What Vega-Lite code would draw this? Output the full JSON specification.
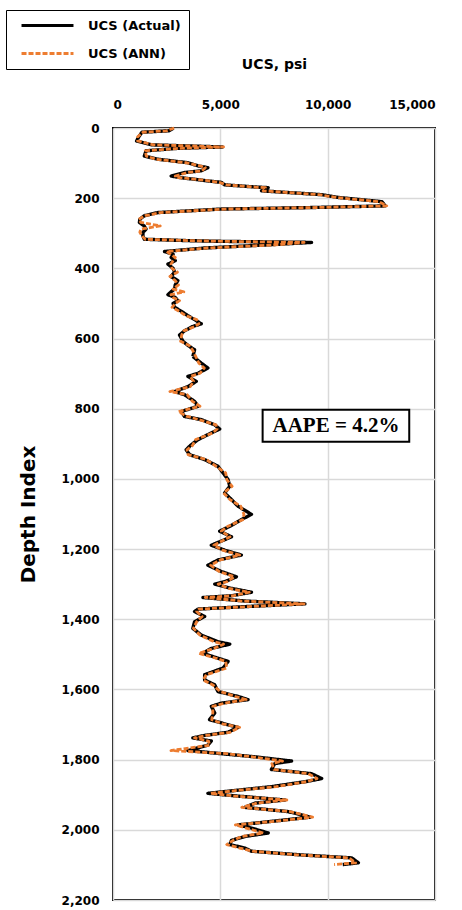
{
  "$schema": "https://vega.github.io/schema/vega-lite/v6.json",
  "width": 322,
  "height": 772,
  "autosize": "none",
  "padding": {"left": 113, "top": 128, "right": 27, "bottom": 10},
  "background": "white",
  "config": {
    "view": {"stroke": "black", "strokeWidth": 2},
    "font": "DejaVu Sans",
    "axis": {
      "labelFont": "DejaVu Sans", "labelFontWeight": "bold", "labelFontSize": 12, "labelColor": "black",
      "titleFont": "DejaVu Sans", "titleFontWeight": "bold", "titleColor": "black",
      "ticks": false, "domain": false, "gridColor": "#d9d9d9", "gridWidth": 1.5
    },
    "legend": {
      "orient": "none", "legendX": -107, "legendY": -118,
      "strokeColor": "black", "fillColor": "white", "padding": 8,
      "labelFont": "DejaVu Sans", "labelFontWeight": "bold", "labelFontSize": 13, "labelColor": "black",
      "symbolSize": 2700, "symbolStrokeWidth": 3, "symbolOffset": 6, "labelOffset": 13,
      "clipHeight": 15, "rowPadding": 13
    }
  },
  "datasets": {
    "logs": [
      {"depth": 0, "actual": 2800, "ann": 2850},
      {"depth": 3, "actual": 2750, "ann": 2700},
      {"depth": 8, "actual": 2600, "ann": 2500},
      {"depth": 12, "actual": 1350, "ann": 1400},
      {"depth": 25, "actual": 1200, "ann": 1150},
      {"depth": 37, "actual": 1100, "ann": 1150},
      {"depth": 48, "actual": 1800, "ann": 1900},
      {"depth": 54, "actual": 5100, "ann": 5150},
      {"depth": 58, "actual": 3000, "ann": 3100},
      {"depth": 65, "actual": 1540, "ann": 1500},
      {"depth": 80, "actual": 1460, "ann": 1550},
      {"depth": 89, "actual": 2090, "ann": 2000},
      {"depth": 99, "actual": 3490, "ann": 3400},
      {"depth": 108, "actual": 3960, "ann": 4050},
      {"depth": 113, "actual": 4420, "ann": 4300},
      {"depth": 122, "actual": 4110, "ann": 4150},
      {"depth": 127, "actual": 3330, "ann": 3450},
      {"depth": 137, "actual": 2710, "ann": 2900},
      {"depth": 141, "actual": 3100, "ann": 3000},
      {"depth": 150, "actual": 4300, "ann": 4400},
      {"depth": 155, "actual": 5050, "ann": 4950},
      {"depth": 162, "actual": 5200, "ann": 5300},
      {"depth": 168, "actual": 6600, "ann": 6500},
      {"depth": 170, "actual": 7230, "ann": 7100},
      {"depth": 179, "actual": 6920, "ann": 7000},
      {"depth": 190, "actual": 9720, "ann": 9600},
      {"depth": 198, "actual": 10500, "ann": 10400},
      {"depth": 210, "actual": 12530, "ann": 12400},
      {"depth": 222, "actual": 12680, "ann": 12750},
      {"depth": 227, "actual": 9000, "ann": 9200},
      {"depth": 231, "actual": 5050, "ann": 5200},
      {"depth": 241, "actual": 2090, "ann": 2200},
      {"depth": 250, "actual": 1460, "ann": 1500},
      {"depth": 260, "actual": 1250, "ann": 1200},
      {"depth": 269, "actual": 1230, "ann": 1300},
      {"depth": 279, "actual": 1450, "ann": 2200},
      {"depth": 288, "actual": 1540, "ann": 1300},
      {"depth": 297, "actual": 1400, "ann": 1250},
      {"depth": 307, "actual": 1390, "ann": 1350},
      {"depth": 317, "actual": 1460, "ann": 1500},
      {"depth": 321, "actual": 3500, "ann": 3600},
      {"depth": 323, "actual": 5050, "ann": 5200},
      {"depth": 326, "actual": 9250, "ann": 8900},
      {"depth": 333, "actual": 7230, "ann": 7600},
      {"depth": 342, "actual": 4270, "ann": 4400},
      {"depth": 352, "actual": 2400, "ann": 2500},
      {"depth": 360, "actual": 2800, "ann": 2700},
      {"depth": 369, "actual": 2710, "ann": 2900},
      {"depth": 378, "actual": 2900, "ann": 2800},
      {"depth": 388, "actual": 2560, "ann": 2700},
      {"depth": 400, "actual": 2800, "ann": 2750},
      {"depth": 411, "actual": 2870, "ann": 3000},
      {"depth": 423, "actual": 2700, "ann": 2650},
      {"depth": 435, "actual": 3020, "ann": 2900},
      {"depth": 447, "actual": 2900, "ann": 3050},
      {"depth": 459, "actual": 2870, "ann": 2800},
      {"depth": 467, "actual": 2700, "ann": 3300},
      {"depth": 475, "actual": 2560, "ann": 2700},
      {"depth": 483, "actual": 2900, "ann": 2800},
      {"depth": 492, "actual": 3020, "ann": 3100},
      {"depth": 500, "actual": 2800, "ann": 2900},
      {"depth": 511, "actual": 2870, "ann": 2750},
      {"depth": 523, "actual": 3200, "ann": 3100},
      {"depth": 535, "actual": 3490, "ann": 3400},
      {"depth": 546, "actual": 3800, "ann": 3900},
      {"depth": 558, "actual": 4110, "ann": 4000},
      {"depth": 566, "actual": 3700, "ann": 3800},
      {"depth": 578, "actual": 3330, "ann": 3300},
      {"depth": 590, "actual": 3100, "ann": 3200},
      {"depth": 608, "actual": 3260, "ann": 3150},
      {"depth": 620, "actual": 3500, "ann": 3550},
      {"depth": 632, "actual": 3800, "ann": 3700},
      {"depth": 651, "actual": 3720, "ann": 3850},
      {"depth": 670, "actual": 4110, "ann": 4000},
      {"depth": 684, "actual": 4420, "ann": 4250},
      {"depth": 699, "actual": 3960, "ann": 4050},
      {"depth": 708, "actual": 3490, "ann": 3600},
      {"depth": 722, "actual": 3880, "ann": 3750},
      {"depth": 737, "actual": 3490, "ann": 3600},
      {"depth": 751, "actual": 2870, "ann": 2650},
      {"depth": 760, "actual": 3330, "ann": 3450},
      {"depth": 779, "actual": 3800, "ann": 3700},
      {"depth": 793, "actual": 3960, "ann": 4050},
      {"depth": 808, "actual": 3180, "ann": 3050},
      {"depth": 822, "actual": 3330, "ann": 3450},
      {"depth": 831, "actual": 4110, "ann": 4000},
      {"depth": 846, "actual": 4740, "ann": 4800},
      {"depth": 858, "actual": 4970, "ann": 4850},
      {"depth": 869, "actual": 4580, "ann": 4650},
      {"depth": 888, "actual": 3960, "ann": 3850},
      {"depth": 905, "actual": 3600, "ann": 3700},
      {"depth": 917, "actual": 3410, "ann": 3450},
      {"depth": 931, "actual": 3570, "ann": 3500},
      {"depth": 945, "actual": 4270, "ann": 4350},
      {"depth": 964, "actual": 4890, "ann": 4800},
      {"depth": 983, "actual": 5130, "ann": 5250},
      {"depth": 1002, "actual": 5360, "ann": 5300},
      {"depth": 1021, "actual": 5440, "ann": 5550},
      {"depth": 1040, "actual": 5200, "ann": 5150},
      {"depth": 1059, "actual": 5520, "ann": 5450},
      {"depth": 1078, "actual": 5830, "ann": 5950},
      {"depth": 1101, "actual": 6450, "ann": 6100},
      {"depth": 1116, "actual": 5980, "ann": 6050},
      {"depth": 1135, "actual": 5440, "ann": 5350},
      {"depth": 1149, "actual": 4970, "ann": 5050},
      {"depth": 1165, "actual": 5520, "ann": 5450},
      {"depth": 1189, "actual": 4580, "ann": 4700},
      {"depth": 1203, "actual": 5200, "ann": 5100},
      {"depth": 1217, "actual": 5980, "ann": 5900},
      {"depth": 1231, "actual": 4890, "ann": 5000},
      {"depth": 1246, "actual": 4420, "ann": 4550},
      {"depth": 1264, "actual": 5050, "ann": 4950},
      {"depth": 1279, "actual": 5750, "ann": 5650},
      {"depth": 1293, "actual": 5200, "ann": 5300},
      {"depth": 1300, "actual": 4740, "ann": 4900},
      {"depth": 1312, "actual": 5520, "ann": 5400},
      {"depth": 1323, "actual": 6450, "ann": 6350},
      {"depth": 1333, "actual": 5520, "ann": 5600},
      {"depth": 1338, "actual": 4190, "ann": 4300},
      {"depth": 1348, "actual": 6140, "ann": 6000},
      {"depth": 1356, "actual": 8940, "ann": 8900},
      {"depth": 1364, "actual": 6140, "ann": 6300},
      {"depth": 1371, "actual": 3960, "ann": 4000},
      {"depth": 1378, "actual": 3800, "ann": 3900},
      {"depth": 1392, "actual": 4270, "ann": 4150},
      {"depth": 1407, "actual": 3800, "ann": 3900},
      {"depth": 1426, "actual": 3720, "ann": 3750},
      {"depth": 1445, "actual": 4110, "ann": 4050},
      {"depth": 1464, "actual": 4890, "ann": 4700},
      {"depth": 1471, "actual": 5440, "ann": 5150},
      {"depth": 1483, "actual": 4580, "ann": 4700},
      {"depth": 1497, "actual": 4190, "ann": 4000},
      {"depth": 1511, "actual": 4890, "ann": 4800},
      {"depth": 1520, "actual": 5360, "ann": 5250},
      {"depth": 1539, "actual": 5130, "ann": 5300},
      {"depth": 1558, "actual": 4270, "ann": 4350},
      {"depth": 1573, "actual": 4270, "ann": 4200},
      {"depth": 1587, "actual": 4740, "ann": 4650},
      {"depth": 1606, "actual": 4890, "ann": 5000},
      {"depth": 1620, "actual": 5830, "ann": 5700},
      {"depth": 1629, "actual": 6290, "ann": 6200},
      {"depth": 1639, "actual": 5050, "ann": 5200},
      {"depth": 1648, "actual": 4580, "ann": 4650},
      {"depth": 1667, "actual": 4740, "ann": 4650},
      {"depth": 1686, "actual": 4500, "ann": 4600},
      {"depth": 1698, "actual": 5200, "ann": 5100},
      {"depth": 1708, "actual": 5830, "ann": 5900},
      {"depth": 1722, "actual": 5360, "ann": 5450},
      {"depth": 1731, "actual": 4270, "ann": 4350},
      {"depth": 1738, "actual": 3720, "ann": 3800},
      {"depth": 1747, "actual": 4580, "ann": 4450},
      {"depth": 1759, "actual": 4420, "ann": 4500},
      {"depth": 1774, "actual": 3490, "ann": 2700},
      {"depth": 1783, "actual": 5050, "ann": 5300},
      {"depth": 1792, "actual": 6610, "ann": 6500},
      {"depth": 1804, "actual": 8320, "ann": 7900},
      {"depth": 1811, "actual": 7540, "ann": 7400},
      {"depth": 1828, "actual": 7380, "ann": 7500},
      {"depth": 1840, "actual": 9250, "ann": 9100},
      {"depth": 1854, "actual": 9720, "ann": 9500},
      {"depth": 1863, "actual": 8940, "ann": 9000},
      {"depth": 1877, "actual": 7380, "ann": 7600},
      {"depth": 1887, "actual": 5830, "ann": 5900},
      {"depth": 1896, "actual": 4420, "ann": 4550},
      {"depth": 1904, "actual": 5830, "ann": 5700},
      {"depth": 1915, "actual": 8010, "ann": 8100},
      {"depth": 1924, "actual": 6610, "ann": 6700},
      {"depth": 1936, "actual": 6140, "ann": 6000},
      {"depth": 1948, "actual": 8160, "ann": 8250},
      {"depth": 1964, "actual": 9180, "ann": 9300},
      {"depth": 1976, "actual": 7380, "ann": 7500},
      {"depth": 1986, "actual": 5830, "ann": 5700},
      {"depth": 1995, "actual": 6450, "ann": 6200},
      {"depth": 2009, "actual": 7230, "ann": 7000},
      {"depth": 2019, "actual": 6140, "ann": 6000},
      {"depth": 2030, "actual": 5520, "ann": 5600},
      {"depth": 2042, "actual": 5440, "ann": 5300},
      {"depth": 2052, "actual": 6140, "ann": 5900},
      {"depth": 2061, "actual": 6450, "ann": 6500},
      {"depth": 2071, "actual": 8630, "ann": 8500},
      {"depth": 2080, "actual": 11120, "ann": 11000},
      {"depth": 2094, "actual": 11430, "ann": 11300},
      {"depth": 2099, "actual": 10700, "ann": 10300}
    ],
    "note": [
      {"label": "AAPE = 4.2%", "x": 6970, "x2": 13800, "y": 803, "y2": 894, "xc": 10385, "yc": 850}
    ]
  },
  "layer": [
    {
      "data": {"name": "logs"},
      "transform": [
        {"fold": ["actual", "ann"], "as": ["series", "ucs"]},
        {"filter": "datum.series === 'actual'"}
      ],
      "mark": {"type": "line", "strokeWidth": 3.4, "strokeJoin": "round"},
      "encoding": {
        "x": {"field": "ucs", "type": "quantitative", "scale": {"domain": [0, 15000], "nice": false},
          "axis": {"orient": "top", "values": [0, 5000, 10000, 15000], "format": ",.0f", "title": "UCS, psi",
            "titleFontSize": 14, "labelPadding": 17, "titlePadding": 27}},
        "y": {"field": "depth", "type": "quantitative", "scale": {"domain": [0, 2200], "nice": false, "reverse": true},
          "axis": {"values": [0, 200, 400, 600, 800, 1000, 1200, 1400, 1600, 1800, 2000, 2200], "format": ",.0f",
            "title": "Depth Index", "titleFontSize": 20, "labelPadding": 14, "titlePadding": 23}},
        "order": {"field": "depth", "type": "quantitative"},
        "color": {"field": "series", "type": "nominal",
          "scale": {"domain": ["actual", "ann"], "range": ["#000000", "#ED7D31"]},
          "legend": {"title": null, "labelExpr": "datum.value === 'actual' ? 'UCS (Actual)' : 'UCS (ANN)'"}},
        "strokeDash": {"field": "series", "type": "nominal",
          "scale": {"domain": ["actual", "ann"], "range": [[1, 0], [5, 2]]},
          "legend": {"title": null, "labelExpr": "datum.value === 'actual' ? 'UCS (Actual)' : 'UCS (ANN)'"}}
      }
    },
    {
      "data": {"name": "logs"},
      "transform": [
        {"fold": ["actual", "ann"], "as": ["series", "ucs"]},
        {"filter": "datum.series === 'ann'"}
      ],
      "mark": {"type": "line", "strokeWidth": 2.8, "strokeJoin": "round"},
      "encoding": {
        "x": {"field": "ucs", "type": "quantitative"},
        "y": {"field": "depth", "type": "quantitative"},
        "order": {"field": "depth", "type": "quantitative"},
        "color": {"field": "series", "type": "nominal"},
        "strokeDash": {"field": "series", "type": "nominal"}
      }
    },
    {
      "data": {"name": "note"},
      "mark": {"type": "rect", "fill": "white", "stroke": "black", "strokeWidth": 2},
      "encoding": {
        "x": {"field": "x", "type": "quantitative"},
        "x2": {"field": "x2"},
        "y": {"field": "y", "type": "quantitative"},
        "y2": {"field": "y2"}
      }
    },
    {
      "data": {"name": "note"},
      "mark": {"type": "text", "font": "Liberation Serif", "fontWeight": "bold", "fontSize": 21, "align": "center", "baseline": "middle", "color": "black"},
      "encoding": {
        "x": {"field": "xc", "type": "quantitative"},
        "y": {"field": "yc", "type": "quantitative"},
        "text": {"field": "label"}
      }
    }
  ]
}
